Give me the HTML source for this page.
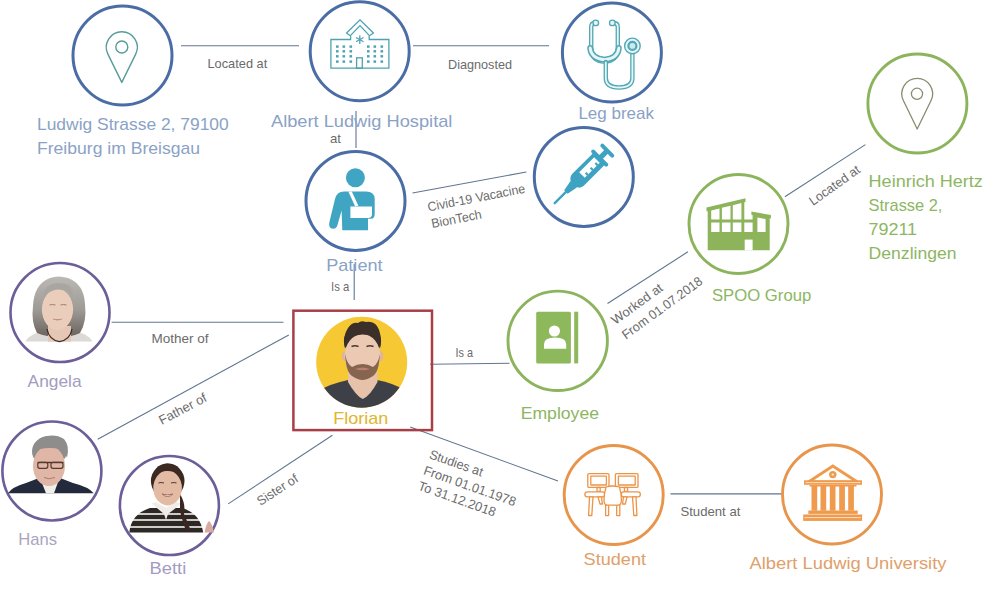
<!DOCTYPE html>
<html><head><meta charset="utf-8">
<style>
html,body{margin:0;padding:0;background:#fff;width:1000px;height:592px;overflow:hidden}
svg{display:block;font-family:"Liberation Sans",sans-serif}
.e{fill:none;stroke:#5f7592;stroke-width:1.1}
.cb{fill:none;stroke:#4b6da5;stroke-width:3}
.cg{fill:none;stroke:#8cb45c;stroke-width:2.9}
.cp{fill:none;stroke:#6c5e98;stroke-width:2.6}
.co{fill:none;stroke:#e8944a;stroke-width:2.9}
.lb{fill:#8aa2c6;font-size:17px}
.lg{fill:#8db662;font-size:17px}
.lp{fill:#a49cc0;font-size:17px}
.lo{fill:#e0a06a;font-size:17px}
.el{fill:#6b6b6b;font-size:13px}
.ti{fill:none;stroke:#4aa1a2;stroke-width:1.5}
</style></head><body>
<svg width="1000" height="592" viewBox="0 0 1000 592">
<!-- edges -->
<line class="e" x1="181" y1="45.8" x2="299" y2="45.8"/>
<line class="e" x1="413" y1="45.7" x2="549" y2="45.7"/>
<line class="e" x1="356" y1="111" x2="356" y2="148"/>
<line class="e" x1="412.5" y1="193" x2="526.3" y2="172"/>
<line class="e" x1="354.2" y1="264" x2="354.2" y2="300"/>
<line class="e" x1="111.6" y1="322.3" x2="283.5" y2="322.3"/>
<line class="e" x1="97.7" y1="439.3" x2="288.8" y2="334.9"/>
<line class="e" x1="228.2" y1="503.9" x2="332.4" y2="435.2"/>
<line class="e" x1="430" y1="364.3" x2="509.5" y2="363.3"/>
<line class="e" x1="607.5" y1="303.5" x2="687.9" y2="251.8"/>
<line class="e" x1="784.9" y1="196.8" x2="865.4" y2="144.6"/>
<line class="e" x1="410.2" y1="427" x2="558" y2="481"/>
<line class="e" x1="670.5" y1="493.9" x2="781.5" y2="493.9"/>

<!-- circles -->
<circle class="cb" cx="122.5" cy="55.5" r="49.5"/>
<circle class="cb" cx="359.7" cy="51.3" r="49.5"/>
<circle class="cb" cx="611.9" cy="52.5" r="49.5"/>
<circle class="cb" cx="355.5" cy="200.9" r="49.5"/>
<circle class="cb" cx="583.8" cy="176.9" r="49.5"/>
<circle class="cg" cx="917.4" cy="103.5" r="49.5"/>
<circle class="cg" cx="738.5" cy="224" r="49.5"/>
<circle class="cg" cx="557.7" cy="340.8" r="49.7"/>
<circle class="cp" cx="60" cy="312.5" r="49.5"/>
<circle class="cp" cx="51.9" cy="471" r="49.5"/>
<circle class="cp" cx="169.4" cy="505.5" r="49.5"/>
<circle class="co" cx="613.7" cy="495" r="49.5"/>
<circle class="co" cx="832" cy="494.5" r="49.5"/>


<!-- pin 1 -->
<path d="M121.80,82.40 L135.71,54.14 A15.5,15.5 0 1 0 107.89,54.14 Z" fill="none" stroke="#579b9c" stroke-width="1.4" stroke-linejoin="round"/>
<circle cx="121.8" cy="47" r="6" fill="none" stroke="#579b9c" stroke-width="1.4"/>
<!-- pin 2 -->
<path d="M917.20,129.00 L931.05,100.54 A15.4,15.4 0 1 0 903.35,100.54 Z" fill="none" stroke="#8b8b72" stroke-width="1.3" stroke-linejoin="round"/>
<circle cx="917" cy="93.8" r="5.6" fill="none" stroke="#8b8b72" stroke-width="1.3"/>
<!-- hospital -->
<g fill="none" stroke="#4ea2b0" stroke-width="1.3" stroke-linejoin="miter">
<path d="M330.9,68.2 L330.9,39.5 L350.6,39.5 L350.6,36 L346.6,33 L360,19.8 L373.4,33 L369.2,36 L369.2,39.5 L388.9,39.5 L388.9,68.2 Z"/>
<path d="M350.6,35.4 L360,25.6 L369.2,35.4"/>
<rect x="356.6" y="57.8" width="5.7" height="10.4"/>
</g>
<g fill="#4ea2b0">
<rect x="336" y="45.4" width="2.6" height="2.4"/><rect x="342.5" y="45.4" width="2.6" height="2.4"/><rect x="349.5" y="45.4" width="2.6" height="2.4"/>
<rect x="367" y="45.4" width="2.6" height="2.4"/><rect x="373.5" y="45.4" width="2.6" height="2.4"/><rect x="380.5" y="45.4" width="2.6" height="2.4"/>
<rect x="336" y="50.1" width="2.6" height="2.4"/><rect x="342.5" y="50.1" width="2.6" height="2.4"/><rect x="349.5" y="50.1" width="2.6" height="2.4"/>
<rect x="367" y="50.1" width="2.6" height="2.4"/><rect x="373.5" y="50.1" width="2.6" height="2.4"/><rect x="380.5" y="50.1" width="2.6" height="2.4"/>
<rect x="336" y="55.1" width="2.6" height="2.4"/><rect x="342.5" y="55.1" width="2.6" height="2.4"/><rect x="349.5" y="55.1" width="2.6" height="2.4"/>
<rect x="367" y="55.1" width="2.6" height="2.4"/><rect x="373.5" y="55.1" width="2.6" height="2.4"/><rect x="380.5" y="55.1" width="2.6" height="2.4"/>
<rect x="336" y="60.4" width="2.6" height="2.4"/><rect x="342.5" y="60.4" width="2.6" height="2.4"/><rect x="349.5" y="60.4" width="2.6" height="2.4"/>
<rect x="367" y="60.4" width="2.6" height="2.4"/><rect x="373.5" y="60.4" width="2.6" height="2.4"/><rect x="380.5" y="60.4" width="2.6" height="2.4"/>
</g>
<g stroke="#4ea2b0" stroke-width="1.3" stroke-linecap="round">
<line x1="359.8" y1="35.8" x2="359.8" y2="43.4"/>
<line x1="356.5" y1="37.7" x2="363.1" y2="41.5"/>
<line x1="356.5" y1="41.5" x2="363.1" y2="37.7"/>
</g>
<!-- stethoscope -->
<g fill="none" stroke-linecap="round" stroke-linejoin="round">
<path d="M595.6,22.8 Q591.2,22.8 591.2,27 L591.2,47 Q591.2,61.5 604.5,61.5 Q617.8,61.5 617.8,47 L617.8,27 Q617.8,22.8 612.6,22.8" stroke="#52a8b4" stroke-width="4.4"/>
<path d="M595.6,22.8 Q591.2,22.8 591.2,27 L591.2,47 Q591.2,61.5 604.5,61.5 Q617.8,61.5 617.8,47 L617.8,27 Q617.8,22.8 612.6,22.8" stroke="#e6f6f8" stroke-width="1.8"/>
<path d="M590.2,48 Q591,58.5 604.5,59.8 Q618,58.5 618.8,48" stroke="#52a8b4" stroke-width="6"/>
<path d="M590.2,48 Q591,58.5 604.5,59.8 Q618,58.5 618.8,48" stroke="#e6f6f8" stroke-width="3"/>
<path d="M605.8,62 L605.8,78 Q605.8,87.5 619,87.5 Q632.4,87.5 632.4,78 L632.4,54" stroke="#52a8b4" stroke-width="4.4"/>
<path d="M605.8,62.5 L605.8,78 Q605.8,87.5 619,87.5 Q632.4,87.5 632.4,78 L632.4,54.5" stroke="#e6f6f8" stroke-width="1.8"/>
<circle cx="595.8" cy="22.9" r="2.8" stroke="#52a8b4" stroke-width="1.3" fill="#e6f6f8"/>
<circle cx="612.3" cy="22.9" r="2.8" stroke="#52a8b4" stroke-width="1.3" fill="#e6f6f8"/>
</g>
<circle cx="632.4" cy="45.9" r="7.8" fill="#e6f6f8" stroke="#52a8b4" stroke-width="1.4"/>
<circle cx="632.4" cy="45.9" r="4" fill="#cdebee" stroke="#52a8b4" stroke-width="2.2"/>
<!-- syringe -->
<g transform="translate(553.9,204) rotate(-45)">
<g fill="#3ea3c2">
<rect x="0" y="-1.2" width="19" height="2.4" rx="1.2"/>
<path d="M17,-2.4 L28,-4.5 L28,4.5 L17,2.4 Z"/>
<path d="M64,-8.3 L34,-8.3 A7,8.3 0 0 0 34,8.3 L64,8.3 Z"/>
<rect x="62.8" y="-11.2" width="4" height="22.4" rx="2"/>
<rect x="65" y="-2.6" width="10" height="5.2"/>
<rect x="73.5" y="-9" width="4" height="18" rx="2"/>
</g>
<rect x="40.4" y="-4.6" width="21.2" height="7.8" fill="#fff"/>
<g fill="#3ea3c2">
<rect x="43.4" y="0.4" width="2.2" height="3"/>
<rect x="50.5" y="0.4" width="2.2" height="3"/>
<rect x="57.2" y="0.4" width="2.2" height="3"/>
</g>
</g>
<!-- patient -->
<g fill="#3fa5c3">
<circle cx="355.4" cy="177.8" r="9.5"/>
<path d="M342.3,230.3 L368,230.3 L368,218.8 L371,218.8 Q374.7,218.8 374.7,214 L374.7,199 Q374.7,191.4 366,191.4 L344,191.4 Q336.5,191.8 335,199 L329.3,222.5 Q328.2,228.6 333,228.7 Q336.5,228.8 337.5,225 L341.6,210.5 Z"/>
</g>
<g fill="#ffffff">
<path d="M348.3,191.6 L351.8,191.6 L358.4,205.8 L355.2,206.4 Z"/>
<path d="M350.4,206.6 L372,206.6 L372,214 Q372,218.1 368,218.1 L350.4,218.1 Z"/>
</g>
<!-- SPOO building -->
<g fill="#8db45b">
<path d="M706.5,207.5 L745.5,198.3 L745.5,202 L744.3,202.3 L744.3,219.5 L752.6,219.5 L752.6,215 L751.4,215 L751.4,211.5 L770.9,215 L770.9,218.5 L769.7,218.5 L769.7,250.3 L707.7,250.3 L707.7,211.3 L706.5,211.3 Z"/>
</g>
<g fill="#ffffff">
<path d="M711.2,210.4 L719.5,208.4 L719.5,219.5 L711.2,219.5 Z"/>
<path d="M721.9,207.8 L730.5,205.7 L730.5,219.5 L721.9,219.5 Z"/>
<path d="M732.8,205.2 L741.4,203.1 L741.4,219.5 L732.8,219.5 Z"/>
<rect x="711.2" y="222.5" width="8.3" height="9.5"/>
<rect x="721.9" y="222.5" width="8.6" height="9.5"/>
<rect x="732.8" y="222.5" width="8.6" height="9.5"/>
<rect x="744.3" y="222.5" width="8.3" height="9.5"/>
<path d="M757.4,217.6 L765.6,219 L765.6,232 L757.4,232 Z"/>
<rect x="744.7" y="239.6" width="7.9" height="10.8"/>
</g>
<!-- employee -->
<g fill="#8db85b">
<rect x="536.2" y="311.7" width="34.7" height="51.7" rx="1.5"/>
<rect x="574.2" y="311.7" width="4" height="51.7"/>
</g>
<g fill="#ffffff">
<circle cx="554.4" cy="331" r="5.6"/>
<path d="M544,348.8 L544,344 Q544,337.4 555,337.4 Q566.2,337.4 566.2,344 L566.2,348.8 Z"/>
</g>
<!-- university -->
<g fill="#ef9a4c">
<path d="M805.1,482.4 L832.8,464.2 L860.9,482.4 Z M813.5,480.5 L852.3,480.5 L832.8,467.8 Z" fill-rule="evenodd"/>
<rect x="804" y="480.3" width="58" height="4.5"/>
<circle cx="832.8" cy="474.6" r="3.7"/>
<rect x="811.5" y="486" width="5.7" height="24.7"/>
<rect x="820.5" y="486" width="5.7" height="24.7"/>
<rect x="829.8" y="486" width="5.7" height="24.7"/>
<rect x="839.2" y="486" width="5.7" height="24.7"/>
<rect x="848.2" y="486" width="5.7" height="24.7"/>
<rect x="809.5" y="485" width="47" height="1.5"/>
<rect x="808.3" y="510.5" width="49.4" height="3.4"/>
<rect x="803.2" y="514.5" width="58.9" height="6.4"/>
</g>
<g fill="#fde6d2">
<rect x="805.5" y="482.2" width="55" height="0.9"/>
<circle cx="832.8" cy="474.6" r="1.2"/>
<rect x="804.5" y="517.2" width="56.3" height="0.9"/>
</g>
<!-- student -->
<g fill="#fff" stroke="#ec9447" stroke-width="1.3" stroke-linejoin="round">
<rect x="587.8" y="473.6" width="21.2" height="13.8" rx="1.2"/>
<rect x="590.8" y="476.2" width="15.6" height="8.8"/>
<rect x="615.4" y="473.6" width="22.6" height="13.8" rx="1.2"/>
<rect x="618.4" y="476.2" width="16.8" height="8.8"/>
<rect x="597" y="487.5" width="3.2" height="4"/>
<rect x="624.4" y="487.5" width="3.2" height="4"/>
<rect x="584.9" y="491.8" width="20" height="5" rx="2.4"/>
<rect x="621.3" y="491.8" width="19" height="5" rx="2.4"/>
<path d="M589.5,496.9 L593,496.9 L591.8,515.5 L588.6,515.5 Z"/>
<path d="M598,496.9 L601.5,496.9 L602.4,504 L600,504 Z"/>
<path d="M632.5,496.9 L636,496.9 L636.9,515.5 L633.8,515.5 Z"/>
<path d="M623.5,496.9 L627,496.9 L625.3,504 L622.5,504 Z"/>
<path d="M605.6,504.8 L608.6,504.8 L608.6,515.6 L605.6,515.6 Z"/>
<path d="M616.7,504.8 L619.8,504.8 L619.8,515.6 L616.7,515.6 Z"/>
<path d="M606,487 Q612.7,485 619.5,487 Q621.5,494 621.4,500 Q621.5,505.2 618,505.2 L607.5,505.2 Q604,505.2 604,500 Q604,494 606,487 Z"/>
</g>

<!-- red box -->
<rect x="293.4" y="310.7" width="138.6" height="119.4" fill="none" stroke="#a83f47" stroke-width="2.5"/>
<circle cx="361.7" cy="362.2" r="45.5" fill="#f6c834"/>


<!-- photos -->
<defs>
<clipPath id="cf"><circle cx="361.7" cy="362.4" r="45.3"/></clipPath>
<linearGradient id="hairA" x1="0" y1="0" x2="0" y2="1"><stop offset="0" stop-color="#bcb9b5"/><stop offset="0.55" stop-color="#9e9a96"/><stop offset="1" stop-color="#6a625c"/></linearGradient>
<linearGradient id="shirtB" x1="0" y1="0" x2="0" y2="1">
<stop offset="0" stop-color="#2b2826"/><stop offset="0.2" stop-color="#2b2826"/><stop offset="0.2" stop-color="#cfcac4"/><stop offset="0.28" stop-color="#cfcac4"/>
<stop offset="0.28" stop-color="#2b2826"/><stop offset="0.46" stop-color="#2b2826"/><stop offset="0.46" stop-color="#cfcac4"/><stop offset="0.54" stop-color="#cfcac4"/>
<stop offset="0.54" stop-color="#2b2826"/><stop offset="0.72" stop-color="#2b2826"/><stop offset="0.72" stop-color="#cfcac4"/><stop offset="0.8" stop-color="#cfcac4"/>
<stop offset="0.8" stop-color="#2b2826"/><stop offset="1" stop-color="#2b2826"/></linearGradient>
</defs>
<!-- Angela -->
<g>
<path d="M25.5,341.6 Q29,334 42,332 L76,332 Q89,334 92.5,341.6 Z" fill="#dcdad7"/>
<path d="M37,333 Q31,322 33,306 Q34,284 50,278 Q58,275 68,278 Q84,284 85,304 Q87,322 80,333 Q72,337 60,337 Q46,337 37,333 Z" fill="url(#hairA)"/>
<path d="M48,326 L48,341.6 L71,341.6 L71,326 Z" fill="#e6c6b4"/>
<path d="M47,329 Q49,340 59.5,341.6 Q70,340 72,329" fill="none" stroke="#3a2a25" stroke-width="1.3"/>
<ellipse cx="57.5" cy="309.5" rx="15.6" ry="20.5" fill="#ebcdbb"/>
<path d="M41.5,306 Q41,288 52,284 Q62,281 70,286 Q74,292 74,302 Q71,292 64,290 Q54,288 47,294 Q43,299 41.5,306 Z" fill="#a9a6a2"/>
<path d="M49.5,305 Q52.5,304 55.5,305 M60.5,305 Q63.5,304 66.5,305" stroke="#a07c6c" stroke-width="1" fill="none"/>
<path d="M53,319 Q57.5,320.5 62,319" stroke="#c48f82" stroke-width="1.3" fill="none"/>
</g>
<!-- Hans -->
<g>
<path d="M8,493.3 Q12,487 26,483 L39,478 L60,478 L73,483 Q89,487 93.7,493.3 Z" fill="#232a3c"/>
<path d="M40,478 L46,493.3 L54,493.3 L59.5,478 Z" fill="#efeee9"/>
<ellipse cx="49.5" cy="451" rx="17.5" ry="15" fill="#8e8d8b"/>
<ellipse cx="49" cy="466" rx="16" ry="20" fill="#e0b6a6"/>
<path d="M33,458 Q31,443 42,437.5 Q54,433 64,439 Q70,446 67,458 Q65,451 60,449 Q50,447 40,449 Q35,452 33,458 Z" fill="#8e8d8b"/>
<path d="M37.5,462.5 L63.5,462.5" stroke="#4f342a" stroke-width="1.4"/>
<rect x="37.8" y="462.3" width="10" height="6" rx="2" fill="none" stroke="#553a30" stroke-width="1.2"/>
<rect x="51" y="462.3" width="12" height="6" rx="2" fill="none" stroke="#553a30" stroke-width="1.2"/>
<path d="M44,477.5 Q49,480 55,477.5" stroke="#b07a6c" stroke-width="1" fill="none"/>
</g>
<!-- Betti -->
<g>
<path d="M129.3,532.5 Q131,514 150,508 L182,508 Q200,513 203.2,532.5 Z" fill="url(#shirtB)"/>
<path d="M151.5,503.5 L164,514 L166,520 L168,514 L181.7,503.5 L176,502 L166,508 L156,502 Z" fill="#f0ede8"/>
<path d="M180,494 Q186,504 184,514 Q188,523 191,531 L186,531 Q182,520 180,511 Z" fill="#3a2820"/>
<path d="M204.6,532.5 Q206,524 209,521 Q212,523 214,532.5 Z" fill="#d8aaa0"/>
<ellipse cx="167.7" cy="481" rx="16.8" ry="17.5" fill="#3c2a22"/>
<ellipse cx="167.6" cy="488" rx="14.3" ry="17.5" fill="#e3bba4"/>
<path d="M152.5,488 Q150,466 167,463.6 Q184,464 183.5,486 Q182,477 178,473 Q172,470.5 166,471 Q158,471.5 155,475 Q153,480 152.5,488 Z" fill="#3c2a22"/>
<path d="M158.5,483 Q161,482 164,483 M171,483 Q174,482 176.5,483" stroke="#5a3a30" stroke-width="1.2" fill="none"/>
<path d="M162,494 Q167.5,499 173,494 Q167.5,496 162,494 Z" fill="#fff" stroke="#a86a5a" stroke-width="1"/>
</g>
<!-- Florian -->
<g clip-path="url(#cf)">
<path d="M310,425 L316,392 Q332,383 348,380 L377,380 Q394,383 408,392 L414,425 Z" fill="#3d4046"/>
<path d="M348,372 L348,382 Q356,396 362.7,399 Q370,396 377.5,382 L377.5,372 Z" fill="#e6c2aa"/>
<ellipse cx="362.5" cy="341" rx="18.6" ry="17" fill="#3b3029"/>
<ellipse cx="344.5" cy="356" rx="2.6" ry="5" fill="#dfb49c"/><ellipse cx="380.5" cy="356" rx="2.6" ry="5" fill="#dfb49c"/>
<ellipse cx="362.5" cy="356" rx="17.8" ry="22" fill="#ecc9b2"/>
<path d="M345,354 Q346,372 352,376 Q358,380 362.5,380 Q367,380 373,376 Q379,372 380,354 Q378,364 373,367 Q368,364 362.5,364 Q357,364 352,367 Q347,364 345,354 Z" fill="#86644f"/>
<path d="M355,369 Q362.5,366 370,369 Q362.5,371.5 355,369 Z" fill="#b88070"/>
<path d="M344.5,348 Q343,335 348,328 Q352,322 358,323 Q361,320 366,322 Q373,321 377,326 Q382,333 380.5,348 Q379,340 376,337 Q368,334 362,334.5 Q354,335 349,338 Q346,341 344.5,348 Z" fill="#3b3029"/>
<path d="M351.5,346.5 Q355,345 358.5,346.5 M366.5,346.5 Q370,345 373.5,346.5" stroke="#4a3a32" stroke-width="1.5" fill="none"/>
</g>
<!-- labels -->
<text class="lb" x="37" y="130" textLength="191.7" lengthAdjust="spacingAndGlyphs">Ludwig Strasse 2, 79100</text>
<text class="lb" x="37" y="153.8" textLength="163" lengthAdjust="spacingAndGlyphs">Freiburg im Breisgau</text>
<text class="lb" x="271" y="126.6" textLength="181.4" lengthAdjust="spacingAndGlyphs">Albert Ludwig Hospital</text>
<text class="lb" x="578.4" y="118.5" textLength="75.6" lengthAdjust="spacingAndGlyphs">Leg break</text>
<text class="lb" x="326.2" y="271" textLength="56.4" lengthAdjust="spacingAndGlyphs">Patient</text>
<text class="lg" x="868.6" y="187" textLength="114.3" lengthAdjust="spacingAndGlyphs">Heinrich Hertz</text>
<text class="lg" x="868.6" y="210.8" textLength="73.8" lengthAdjust="spacingAndGlyphs">Strasse 2,</text>
<text class="lg" x="868.6" y="234.8" textLength="48.5" lengthAdjust="spacingAndGlyphs">79211</text>
<text class="lg" x="868.6" y="258.6" textLength="88" lengthAdjust="spacingAndGlyphs">Denzlingen</text>
<text class="lg" x="711.9" y="301.1" textLength="99.4" lengthAdjust="spacingAndGlyphs">SPOO Group</text>
<text class="lg" x="520.7" y="419" textLength="78.3" lengthAdjust="spacingAndGlyphs">Employee</text>
<text class="lp" x="27.6" y="386.6" textLength="54" lengthAdjust="spacingAndGlyphs">Angela</text>
<text class="lp" fill="#aaa3bf" style="fill:#aba4bf" x="18.2" y="545.4" textLength="38.8" lengthAdjust="spacingAndGlyphs">Hans</text>
<text class="lp" x="149.6" y="573.6" textLength="36.7" lengthAdjust="spacingAndGlyphs">Betti</text>
<text x="333.2" y="423.8" fill="#dfb52c" font-size="17" textLength="55.2" lengthAdjust="spacingAndGlyphs">Florian</text>
<text class="lo" x="583.6" y="564.6" textLength="62.4" lengthAdjust="spacingAndGlyphs">Student</text>
<text class="lo" x="749.4" y="568.6" textLength="197.1" lengthAdjust="spacingAndGlyphs">Albert Ludwig University</text>

<!-- edge labels -->
<text class="el" x="207.5" y="67.5" textLength="59.7" lengthAdjust="spacingAndGlyphs">Located at</text>
<text class="el" x="448" y="68.9" textLength="64" lengthAdjust="spacingAndGlyphs">Diagnosted</text>
<text class="el" x="330" y="143" textLength="11" lengthAdjust="spacingAndGlyphs">at</text>
<text class="el" x="331" y="290.8" textLength="18.2" lengthAdjust="spacingAndGlyphs">Is a</text>
<text class="el" x="151.5" y="342.5" textLength="57" lengthAdjust="spacingAndGlyphs">Mother of</text>
<text class="el" x="455.5" y="356.6" textLength="17.5" lengthAdjust="spacingAndGlyphs">Is a</text>
<text class="el" x="680.4" y="515.5" textLength="60" lengthAdjust="spacingAndGlyphs">Student at</text>
<g transform="translate(428.5,211.5) rotate(-11)">
<text class="el" x="0" y="0" textLength="99" lengthAdjust="spacingAndGlyphs">Civid-19 Vacacine</text>
<text class="el" x="0.5" y="17" textLength="51" lengthAdjust="spacingAndGlyphs">BionTech</text>
</g>
<g transform="translate(161.8,425) rotate(-28)"><text class="el" x="0" y="0" textLength="52" lengthAdjust="spacingAndGlyphs">Father of</text></g>
<g transform="translate(260.5,506) rotate(-33)"><text class="el" x="0" y="0" textLength="46" lengthAdjust="spacingAndGlyphs">Sister of</text></g>
<g transform="translate(813,206) rotate(-35.5)"><text class="el" x="0" y="0" textLength="59" lengthAdjust="spacingAndGlyphs">Located at</text></g>
<g transform="translate(615.3,325.1) rotate(-36)">
<text class="el" x="0" y="0" textLength="60" lengthAdjust="spacingAndGlyphs">Worked at</text>
<text class="el" x="0" y="18" textLength="96" lengthAdjust="spacingAndGlyphs">From 01.07.2018</text>
</g>
<g transform="translate(428.4,457.9) rotate(19.5)">
<text class="el" x="0" y="0" textLength="56" lengthAdjust="spacingAndGlyphs">Studies at</text>
<text class="el" x="0" y="17" textLength="97" lengthAdjust="spacingAndGlyphs">From 01.01.1978</text>
<text class="el" x="0" y="33.5" textLength="81.5" lengthAdjust="spacingAndGlyphs">To 31.12.2018</text>
</g>
</svg>
</body></html>
